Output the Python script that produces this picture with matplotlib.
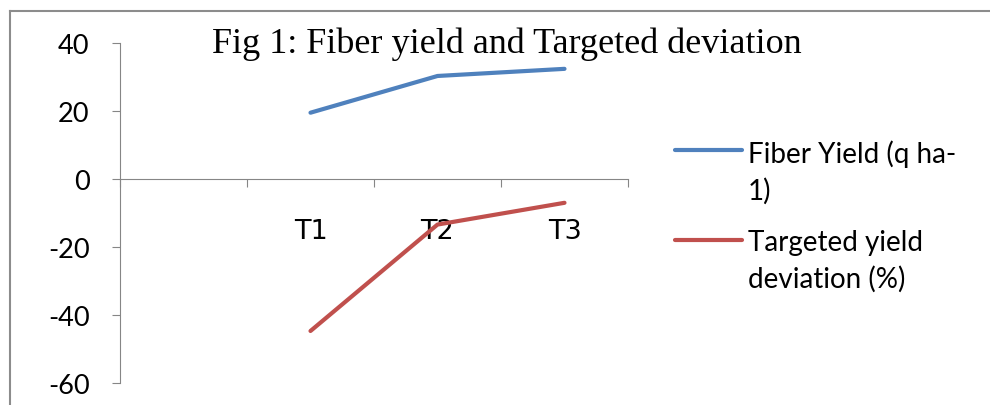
"""Fig 1: Fiber yield and Targeted deviation (line chart, Excel-style)."""
import matplotlib
matplotlib.use("Agg")
import matplotlib.pyplot as plt
from matplotlib.lines import Line2D
import numpy as np

categories = ["", "T1", "T2", "T3"]
fiber_yield = [np.nan, 19.5, 30.3, 32.4]
yield_deviation = [np.nan, -44.7, -13.4, -7.0]
y_ticks = [-60, -40, -20, 0, 20, 40]
series_names = ["Fiber Yield (q ha-\n1)", "Targeted yield\ndeviation (%)"]

BLUE = "#4F81BD"
RED = "#C0504D"
GREY = "#868686"
FONT = "Lato"
FS = 19.5

fig = plt.figure(figsize=(9.9, 4.06), dpi=100)
fig.patch.set_facecolor("white")
ax = fig.add_axes([120 / 990, 22 / 406, 508 / 990, 340 / 406])

x = np.arange(len(categories))
ax.plot(x, fiber_yield, color=BLUE, lw=3, solid_capstyle="round")
ax.plot(x, yield_deviation, color=RED, lw=3, solid_capstyle="round")

ax.set_xlim(-0.5, len(categories) - 0.5)
ax.set_ylim(-60, 40)
ax.set_yticks(y_ticks)
ax.set_yticklabels([str(v) for v in y_ticks], family=FONT)

# category boundaries as major ticks, labels on minor ticks at centres
ax.set_xticks(np.arange(len(categories) + 1) - 0.5)
ax.set_xticklabels([])
ax.set_xticks(x, minor=True)
ax.set_xticklabels(categories, minor=True, family=FONT)
ax.tick_params(axis="x", which="minor", length=0, pad=28, labelsize=FS)
ax.tick_params(axis="x", which="major", length=6, color=GREY, direction="out")
ax.tick_params(axis="y", length=6, color=GREY, pad=16, labelsize=FS)

for s in ["top", "right"]:
    ax.spines[s].set_visible(False)
ax.spines["bottom"].set_position(("data", 0))
ax.spines["bottom"].set_color(GREY)
ax.spines["left"].set_color(GREY)

# legend drawn by hand: handle level with the first text line
for name, color, ypix in zip(series_names, [BLUE, RED], [151, 241]):
    yf = 1 - ypix / 406
    fig.add_artist(Line2D([675 / 990, 742 / 990], [yf, yf], color=color, lw=3,
                          solid_capstyle="round"))
    fig.text(748 / 990, yf + 11 / 406, name, family=FONT, fontsize=20,
             ha="left", va="top", linespacing=1.45)

fig.text(0.512, 1 - 44 / 406, "Fig 1: Fiber yield and Targeted deviation",
         family="Liberation Serif", fontsize=26, ha="center", va="center")

# outer chart frame
fig.add_artist(Line2D([10 / 990, 1], [1 - 12 / 406] * 2, color="#8C8C8C", lw=1.5))
fig.add_artist(Line2D([10 / 990] * 2, [0, 1 - 12 / 406], color="#8C8C8C", lw=1.5))

fig.savefig("out.png", dpi=100, facecolor="white")
